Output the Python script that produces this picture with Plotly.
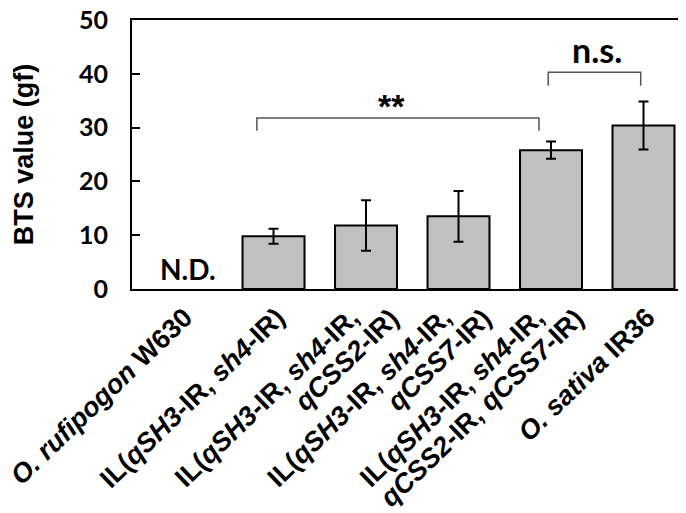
import plotly.graph_objects as go

# category labels: first (or only) line, and second line (if any)
label_line1 = [
    "<i>O. rufipogon</i> W630",
    "IL(<i>qSH3</i>-IR, <i>sh4</i>-IR)",
    "IL(<i>qSH3</i>-IR, <i>sh4</i>-IR,",
    "IL(<i>qSH3</i>-IR, <i>sh4</i>-IR,",
    "IL(<i>qSH3</i>-IR, <i>sh4</i>-IR,",
    "<i>O. sativa</i> IR36",
]
label_line2 = ["", "", "<i>qCSS2</i>-IR)", "<i>qCSS7</i>-IR)",
               "<i>qCSS2</i>-IR, <i>qCSS7</i>-IR)", ""]
bts_values = [None, 9.8, 11.8, 13.5, 25.8, 30.4]
bts_errors = [0, 1.4, 4.7, 4.7, 1.6, 4.45]
y_ticks = [0, 10, 20, 30, 40, 50]

idx = list(range(len(label_line1)))
num_font = "Lato, Liberation Sans, Arial, sans-serif"
arial = "Liberation Sans, Arial, sans-serif"
x_range = [-0.53, 5.546]
label_angle = -44
line1_shift = -0.16   # first line of two-line labels
line2_shift = 0.27    # second line of two-line labels

fig = go.Figure()
fig.add_trace(go.Bar(
    x=idx, y=bts_values, width=0.67,
    marker=dict(color="#c0c0c0", line=dict(color="#000000", width=2)),
    error_y=dict(type="data", array=bts_errors, visible=True,
                 color="#000000", thickness=2, width=5),
    showlegend=False,
))
# invisible helper trace so the second label axis is drawn
fig.add_trace(go.Scatter(x=[x_range[0]], y=[0], xaxis="x2", mode="markers",
                         marker=dict(opacity=0), showlegend=False,
                         hoverinfo="skip"))

# significance brackets
def bracket(x0, x1, ytop, ybot):
    fig.add_shape(type="path",
                  path=f"M {x0} {ybot} L {x0} {ytop} L {x1} {ytop} L {x1} {ybot}",
                  line=dict(color="#555555", width=1.5), xref="x", yref="y")

bracket(1 - 0.18, 4 - 0.13, 31.8, 29.4)
bracket(4 - 0.03, 5 - 0.03, 40.3, 37.8)

fig.add_annotation(x=2.28, y=34.0, text="<b>**</b>", showarrow=False,
                   font=dict(family=arial, size=34, color="#000"))
fig.add_annotation(x=4.5, y=44.5, text="<b>n.s.</b>", showarrow=False,
                   font=dict(family=num_font, size=34, color="#000"))
fig.add_annotation(x=0.07, y=3.7, text="<b>N.D.</b>", showarrow=False,
                   font=dict(family=num_font, size=28, color="#000"))

fig.update_layout(
    width=686, height=513,
    margin=dict(l=124, r=0, t=12, b=232),
    plot_bgcolor="white", paper_bgcolor="white",
)
fig.update_layout(
    xaxis=dict(
        range=x_range, tickmode="array",
        tickvals=[i + (line1_shift if label_line2[i] else 0.04) for i in idx],
        ticktext=[f"<b>{c}</b>" for c in label_line1],
        tickangle=label_angle, showline=True, linecolor="#000", linewidth=2,
        mirror=True, ticks="", showgrid=False, zeroline=False,
        automargin=False, ticklabeloverflow="allow",
        tickfont=dict(family=arial, size=27, color="#000"),
    ),
    xaxis2=dict(
        range=x_range, overlaying="x", anchor="y", side="bottom",
        tickmode="array",
        tickvals=[i + line2_shift for i in idx if label_line2[i]],
        ticktext=[f"<b>{label_line2[i]}</b>" for i in idx if label_line2[i]],
        tickangle=label_angle, showline=True, linecolor="#000", linewidth=2,
        mirror=True, ticks="", showgrid=False,
        zeroline=False, automargin=False, ticklabelstandoff=1,
        ticklabeloverflow="allow",
        tickfont=dict(family=arial, size=27, color="#000"),
    ),
    yaxis=dict(
        range=[0, 50], tickmode="array", tickvals=y_ticks,
        ticktext=[f"<b>{v}</b>" for v in y_ticks],
        ticks="inside", ticklen=8, tickwidth=2, tickcolor="#000",
        ticklabelstandoff=17, ticklabeloverflow="allow",
        showline=True, linecolor="#000", linewidth=2, mirror=False,
        showgrid=False, zeroline=False, automargin=False,
        tickfont=dict(family=num_font, size=25, color="#000"),
        title=dict(text="<b>BTS value (gf)</b>", standoff=38,
                   font=dict(family=arial, size=27, color="#000")),
    ),
)

fig.write_html("out.html")
